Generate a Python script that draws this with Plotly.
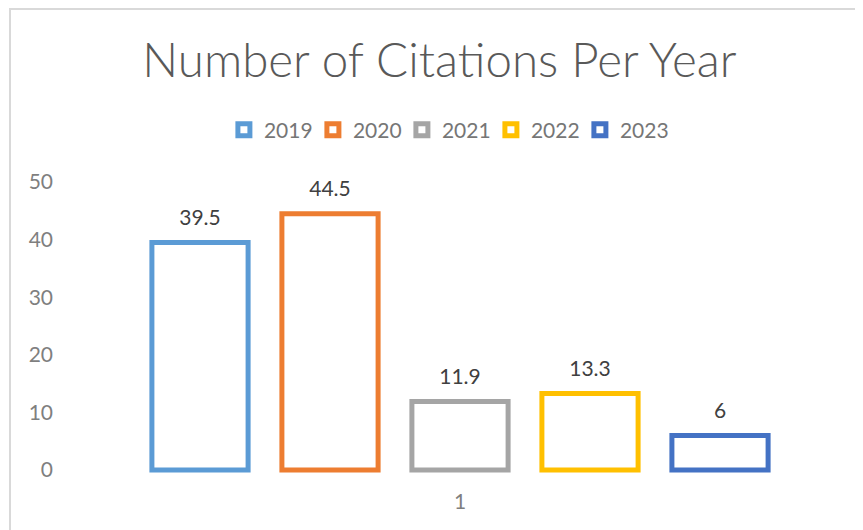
import plotly.graph_objects as go

years = ["2019", "2020", "2021", "2022", "2023"]
citations = [39.5, 44.5, 11.9, 13.3, 6]
colors = ["#5B9BD5", "#ED7D31", "#A5A5A5", "#FFC000", "#4472C4"]
category = ["1"]
y_ticks = [0, 10, 20, 30, 40, 50]

FONT = "Lato"

fig = go.Figure()
for yr, val, col in zip(years, citations, colors):
    fig.add_trace(go.Bar(
        name=yr, x=category, y=[val], offsetgroup=yr,
        marker=dict(color="white", line=dict(color=col, width=5)),
    ))
# data labels, grouped like the bars
for yr, val in zip(years, citations):
    fig.add_trace(go.Scatter(
        x=category, y=[val], mode="markers+text", offsetgroup=yr,
        marker=dict(size=18, color="rgba(0,0,0,0)"),
        text=[f"{val:g}"], textposition="top center", cliponaxis=False,
        textfont=dict(family=FONT, size=21, color="#404040"),
        showlegend=False, hoverinfo="skip",
    ))

fig.update_layout(
    width=863, height=530,
    paper_bgcolor="white", plot_bgcolor="white",
    margin=dict(l=52, r=11, t=174, b=56),
    barmode="group", bargap=0.1875, bargroupgap=0.26,
    scattermode="group", scattergap=0.1875,
    title=dict(text="Number of Citations Per Year", x=0.5, xanchor="center",
               y=1 - 52 / 530, yanchor="middle", yref="container",
               font=dict(family=FONT, size=47.5, color="#595959", weight=300)),
    legend=dict(orientation="h", x=0.483, xanchor="center", y=1.1733, yanchor="middle",
                font=dict(family=FONT, size=21, color="#767676"), itemwidth=30,
                entrywidth=44, entrywidthmode="pixels",
                traceorder="normal"),
    showlegend=True,
    xaxis=dict(showgrid=False, showline=False, zeroline=False, ticks="",
               ticklabelstandoff=5,
               tickfont=dict(family=FONT, size=21, color="#7F7F7F")),
    yaxis=dict(range=[-2.08, 50], tickvals=y_ticks, showgrid=False, showline=False,
               zeroline=False, ticks="", ticklabelstandoff=6,
               tickfont=dict(family=FONT, size=21, color="#7F7F7F")),
    shapes=[dict(type="rect", xref="paper", yref="paper",
                 x0=(2 - 52) / 800, x1=1.2,
                 y0=-1, y1=(474 - 1) / 300,
                 line=dict(color="#D9D9D9", width=2), fillcolor="rgba(0,0,0,0)",
                 layer="below")],
)

fig.write_html("out.html")
